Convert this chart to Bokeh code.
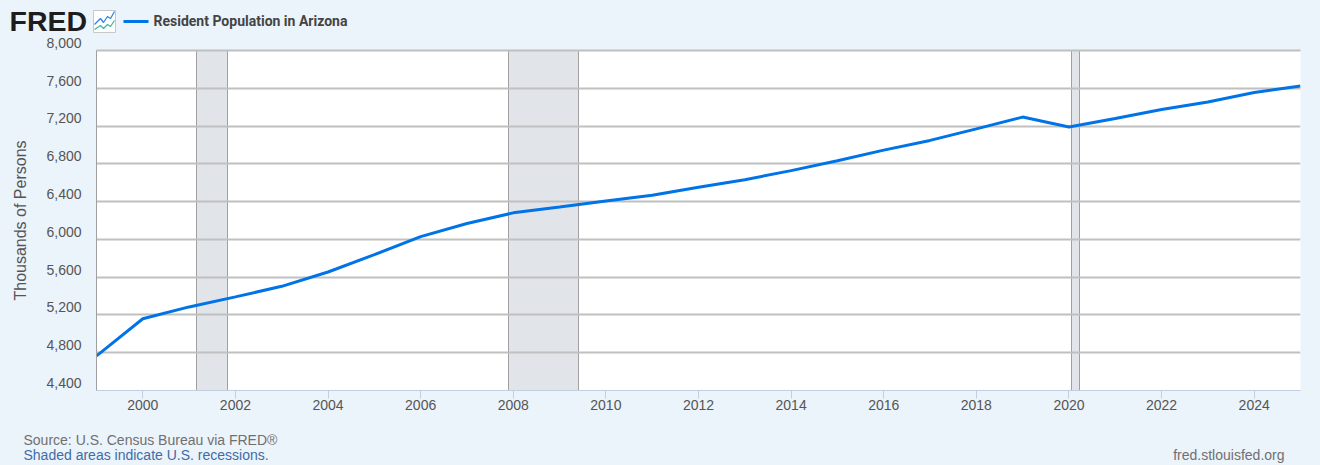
from bokeh.plotting import figure
from bokeh.embed import file_html
from bokeh.resources import INLINE
from bokeh.layouts import column
from bokeh.core.properties import value
from bokeh.models import (Range1d, FixedTicker, LinearAxis, GlobalInlineStyleSheet)

years = list(range(1999, 2026))
population = [4766, 5160, 5285, 5391, 5503, 5655, 5838, 6029, 6168, 6281, 6343, 6407, 6468,
              6553, 6632, 6728, 6832, 6945, 7048, 7170, 7295, 7190, 7280, 7375, 7455, 7555, 7625]
rec_start = [2001.16, 2007.90, 2020.055]
rec_end = [2001.83, 2009.40, 2020.225]
y_ticks = [4400, 4800, 5200, 5600, 6000, 6400, 6800, 7200, 7600, 8000]
x_ticks = list(range(2000, 2025, 2))
series_name = "Resident Population in Arizona"
source_text = "Source: U.S. Census Bureau via FRED\u00ae"
recession_text = "Shaded areas indicate U.S. recessions."
site_text = "fred.stlouisfed.org"

BG = "#ebf3fb"
WIDTH = 1312
HEAD_H = 38
FOOT_H = 45


def strip(height, top_px):
    """A borderless figure whose data units are page pixels, for header and footer."""
    f = figure(width=WIDTH, height=height, output_backend="svg", toolbar_location=None,
               x_range=Range1d(8, 8 + WIDTH), y_range=Range1d(top_px + height, top_px),
               background_fill_color=BG, border_fill_color=BG, frame_align=False,
               min_border=0, min_border_left=0, min_border_right=0, min_border_top=0, min_border_bottom=0)
    f.axis.visible = False
    f.grid.visible = False
    f.outline_line_color = None
    return f


def note(f, x, y, text, size="14px", color="#707070", font="Liberation Sans", style="normal", align="left"):
    f.text([x], [y], text=[text], text_align=align, text_baseline="middle",
           text_font=value(font), text_font_size=size, text_color=color, text_font_style=style)


head = strip(HEAD_H, 0)
note(head, 9, 20.5, "FRED", size="28.5px", color="#1d1d1d", style="bold")
note(head, 153, 20.5, series_name, size="14px", color="#444444", font="Roboto", style="bold")
head.patch([93, 115, 115, 93], [10, 10, 32, 32], fill_color="white", line_color="#c8c8c8", line_width=1)
head.line([94, 100, 103, 107, 110, 114], [24, 18, 22, 16, 18, 11], line_color="#2e86e0", line_width=1.3)
head.line([94, 100, 103, 107, 110, 114], [29, 25, 28, 24, 26, 20], line_color="#47b59a", line_width=1.3)
head.line([123, 148], [21, 21], line_color="#0073e6", line_width=3)

p = figure(width=WIDTH, height=386, output_backend="svg", toolbar_location=None,
           x_range=Range1d(1999, 2025), y_range=Range1d(4400, 8000),
           background_fill_color="white", border_fill_color=BG, frame_align=False,
           min_border_left=88, min_border_right=20, min_border_top=16, min_border_bottom=30,
           margin=(-4, 0, 0, 0))
p.outline_line_color = None

p.xgrid.visible = False
p.ygrid.ticker = FixedTicker(ticks=y_ticks)
p.ygrid.grid_line_color = "#c0c0c0"
p.ygrid.grid_line_width = 2
p.ygrid.level = "underlay"

p.xaxis.ticker = FixedTicker(ticks=x_ticks)
p.xaxis.axis_line_color = "#c0d0e0"
p.xaxis.major_tick_line_color = "#c0d0e0"
p.xaxis.major_tick_in = 0
p.xaxis.major_tick_out = 8
p.xaxis.minor_tick_line_color = None
p.xaxis.major_label_text_font = "Liberation Sans"
p.xaxis.major_label_text_font_size = "14px"
p.xaxis.major_label_text_color = "#555555"
p.xaxis.major_label_standoff = 1

# two-line labels sit half a line above their tick, as in the reference
p.yaxis.ticker = FixedTicker(ticks=y_ticks)
p.yaxis.major_label_overrides = {t: f"{t:,}\n " for t in y_ticks}
p.yaxis.major_label_text_line_height = 0.95
p.yaxis.axis_line_color = "#a0a0a0"
p.yaxis.major_tick_line_color = None
p.yaxis.minor_tick_line_color = None
p.yaxis.major_label_text_color = "#555555"
p.yaxis.major_label_text_font_size = "14px"
p.yaxis.major_label_text_font = "Liberation Sans"
p.yaxis.major_label_standoff = 9
p.yaxis.axis_label = "Thousands of Persons"
p.yaxis.axis_label_text_font = "Liberation Sans"
p.yaxis.axis_label_text_font_size = "16px"
p.yaxis.axis_label_text_font_style = "normal"
p.yaxis.axis_label_text_color = "#555555"
p.yaxis.axis_label_standoff = 14

top_edge = LinearAxis(ticker=FixedTicker(ticks=[]), axis_line_color="#c0c0c0", axis_line_width=2,
                      major_tick_line_color=None, minor_tick_line_color=None,
                      major_label_text_color=None)
p.add_layout(top_edge, "above")

p.vstrip(x0=rec_start, x1=rec_end, fill_color="#e1e5ea", line_color="#a0a0a0", line_width=1,
         level="underlay")
p.line(years, population, line_color="#0073e6", line_width=3)

foot = strip(FOOT_H, 420)
note(foot, 23, 439, source_text)
note(foot, 23, 454, recession_text, color="#3f6ca8")
note(foot, 1284, 454, site_text, align="right")

page = column(head, p, foot, spacing=0)
page.stylesheets = [GlobalInlineStyleSheet(css=f"html,body{{background:{BG};overflow:hidden}}body{{margin:0 0 0 8px}}")]

open("out.html", "w").write(file_html(page, INLINE))
